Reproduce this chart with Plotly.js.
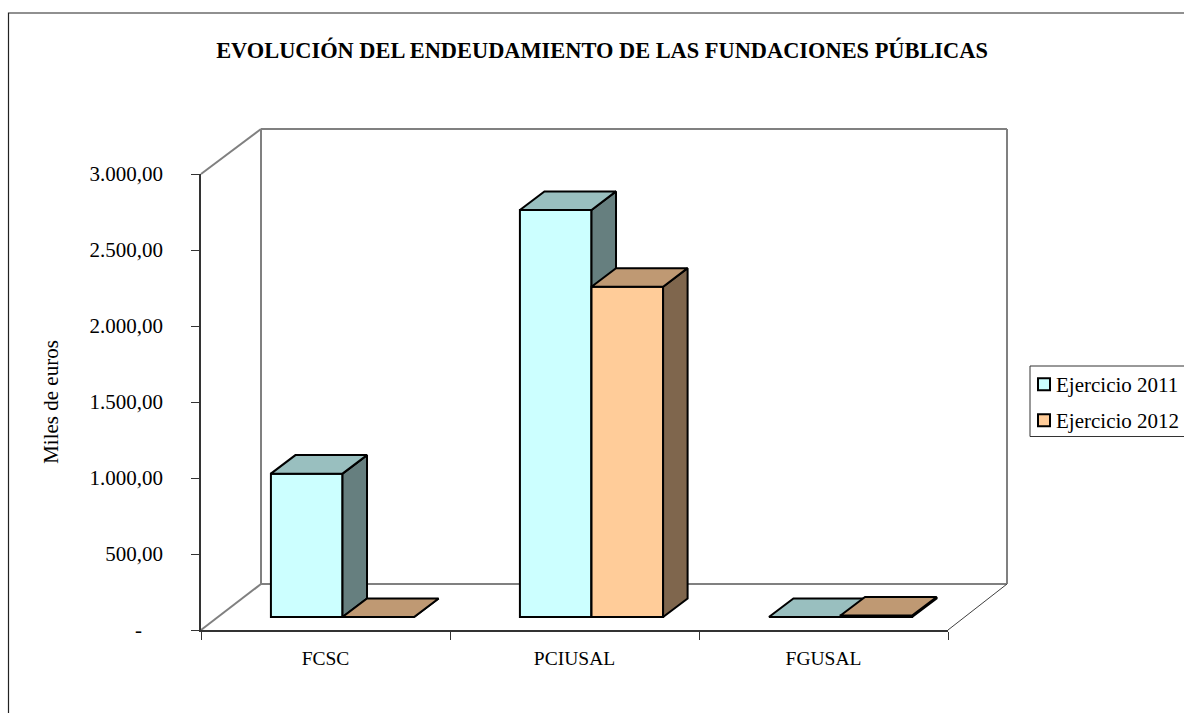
<!DOCTYPE html>
<html>
<head>
<meta charset="utf-8">
<script src="https://cdn.plot.ly/plotly-3.0.1.min.js"></script>
<style>
html,body{margin:0;padding:0;background:#fff;overflow:hidden}
</style>
</head>
<body>
<div id="chart" style="width:1184px;height:713px"></div>
<script>
const categories = ['FCSC', 'PCIUSAL', 'FGUSAL'];
const series2011 = [943, 2678, 0];
const series2012 = [0, 2173, 10];
const seriesNames = ['Ejercicio 2011', 'Ejercicio 2012'];
const yTickValues = [0, 500, 1000, 1500, 2000, 2500, 3000];
const yTickLabels = ['-\u00a0\u00a0\u00a0\u00a0', '500,00', '1.000,00', '1.500,00', '2.000,00', '2.500,00', '3.000,00'];
const titleText = 'EVOLUCIÓN DEL ENDEUDAMIENTO DE LAS FUNDACIONES PÚBLICAS';
const yTitle = 'Miles de euros';

const W = 1184, H = 713;
const plot = {l: 201, r: 948, t: 174, b: 630};
const px = { x: v => (v - plot.l) / (plot.r - plot.l), y: v => (plot.b - v) / (plot.b - plot.t) };
const font = 'Liberation Serif, Times New Roman, serif';

// depth of the 3-D bars, in axis units
const barW = 0.2875, dX = 0.0984, dY = 122, floorX = 0.0683, floorY = 85.5;
const positions = categories.map((c, i) => i + 0.5);

function faces(values, start) {
  const top = {x: [], y: []}, side = {x: [], y: []};
  values.forEach((v, i) => {
    const x0 = positions[i] + floorX + start, x1 = x0 + barW;
    const y0 = floorY, y1 = floorY + v;
    top.x.push(x0, x1, x1 + dX, x0 + dX, x0, null);
    top.y.push(y1, y1, y1 + dY, y1 + dY, y1, null);
    side.x.push(x1, x1 + dX, x1 + dX, x1, x1, null);
    side.y.push(y0, y0 + dY, y1 + dY, y1, y0, null);
  });
  return {top, side};
}
function poly(p, color, xa, ya) {
  return {type: 'scatter', mode: 'lines', x: p.x, y: p.y, xaxis: xa, yaxis: ya, fill: 'toself',
    fillcolor: color, line: {color: '#000', width: 2}, hoverinfo: 'skip', showlegend: false, cliponaxis: false};
}
function bars(name, values, start, color, xa, ya, legend) {
  return {type: 'bar', name, x: positions.map(p => p + floorX + start + barW / 2), y: values,
    base: values.map(() => floorY), width: barW, xaxis: xa, yaxis: ya, legend,
    marker: {color, line: {color: '#000', width: 2}}, cliponaxis: false, hoverinfo: 'x+y'};
}
const f1 = faces(series2011, -barW), f2 = faces(series2012, 0);
const traces = [
  poly(f1.side, '#667F7F', 'x', 'y'),
  poly(f1.top, '#99BFBF', 'x', 'y'),
  bars(seriesNames[0], series2011, -barW, '#CCFFFF', 'x', 'y', 'legend'),
  poly(f2.side, '#7F664D', 'x2', 'y2'),
  poly(f2.top, '#BF9973', 'x2', 'y2'),
  bars(seriesNames[1], series2012, 0, '#FFCC99', 'x2', 'y2', 'legend2')
];

const wall = {color: '#808080', width: 2};
const line = (x0, y0, x1, y1, l) => ({type: 'line', xref: 'paper', yref: 'paper', layer: 'below',
  x0: px.x(x0), y0: px.y(y0), x1: px.x(x1), y1: px.y(y1), line: l});
const shapes = [
  line(261, 129, 1007, 129, wall), line(261, 129, 261, 584, wall),
  line(1007, 129, 1007, 584, wall), line(261, 584, 1007, 584, wall),
  line(201, 174, 261, 129, wall), line(201, 630, 261, 584, wall),
  line(948, 630, 1007, 584, {color: '#404040', width: 1}),
  {type: 'rect', xref: 'paper', yref: 'paper', x0: px.x(8.5), x1: px.x(1300), y0: px.y(13), y1: px.y(800),
    line: {color: '#222', width: 1.2}, layer: 'below'},
  {type: 'rect', xref: 'paper', yref: 'paper', x0: px.x(1030), x1: px.x(1300), y0: px.y(366), y1: px.y(436.5),
    line: {color: '#333', width: 1}, layer: 'below'}
];
const legendBase = {xanchor: 'left', yanchor: 'middle', bgcolor: 'rgba(0,0,0,0)', font: {family: font, size: 21, color: '#000'}, borderwidth: 0};
const layout = {
  width: W, height: H, paper_bgcolor: '#fff', plot_bgcolor: 'rgba(0,0,0,0)', showlegend: true, barmode: 'overlay', hovermode: false,
  margin: {l: plot.l, r: W - plot.r, t: plot.t, b: H - plot.b, pad: 0, autoexpand: false},
  title: {text: '<b>' + titleText + '</b>', x: 602 / W, xref: 'container', xanchor: 'center', y: 1 - 50.5 / H, yref: 'container', yanchor: 'middle',
    font: {family: font, size: 22.4, color: '#000'}},
  font: {family: font, size: 18, color: '#000'},
  xaxis: {range: [0, 3], tickmode: 'array', tickvals: positions, ticktext: categories, ticks: '', showgrid: false, zeroline: false,
    showline: true, linecolor: '#333', linewidth: 1.5, tickfont: {family: font, size: 19.5, color: '#000'}, ticklabelstandoff: 10,
    minor: {tickmode: 'array', tickvals: [0, 1, 2, 3], ticks: 'outside', ticklen: 8, tickcolor: '#333', tickwidth: 1.2, showgrid: false}},
  yaxis: {range: [0, 3000], tickmode: 'array', tickvals: yTickValues, ticktext: yTickLabels, ticks: 'outside', ticklen: 8, tickcolor: '#333', tickwidth: 1.2,
    showgrid: false, zeroline: false, showline: true, linecolor: '#333', linewidth: 1.5, ticklabelstandoff: 24,
    tickfont: {family: font, size: 21, color: '#000'},
    title: {text: yTitle, standoff: 25, font: {family: font, size: 21, color: '#000'}}},
  xaxis2: {range: [0, 3], overlaying: 'x', visible: false},
  yaxis2: {range: [0, 3000], overlaying: 'y', visible: false},
  legend: Object.assign({x: px.x(1016), y: px.y(384.5)}, legendBase),
  legend2: Object.assign({x: px.x(1016), y: px.y(420.5)}, legendBase),
  shapes
};
Plotly.newPlot('chart', traces, layout, {displayModeBar: false, responsive: false}).then(gd => {
  // the swatch sits closer to its label in the reference
  gd.querySelectorAll('.legendsymbols').forEach(g => g.setAttribute('transform', 'translate(8,0)'));
});
</script>
</body>
</html>
